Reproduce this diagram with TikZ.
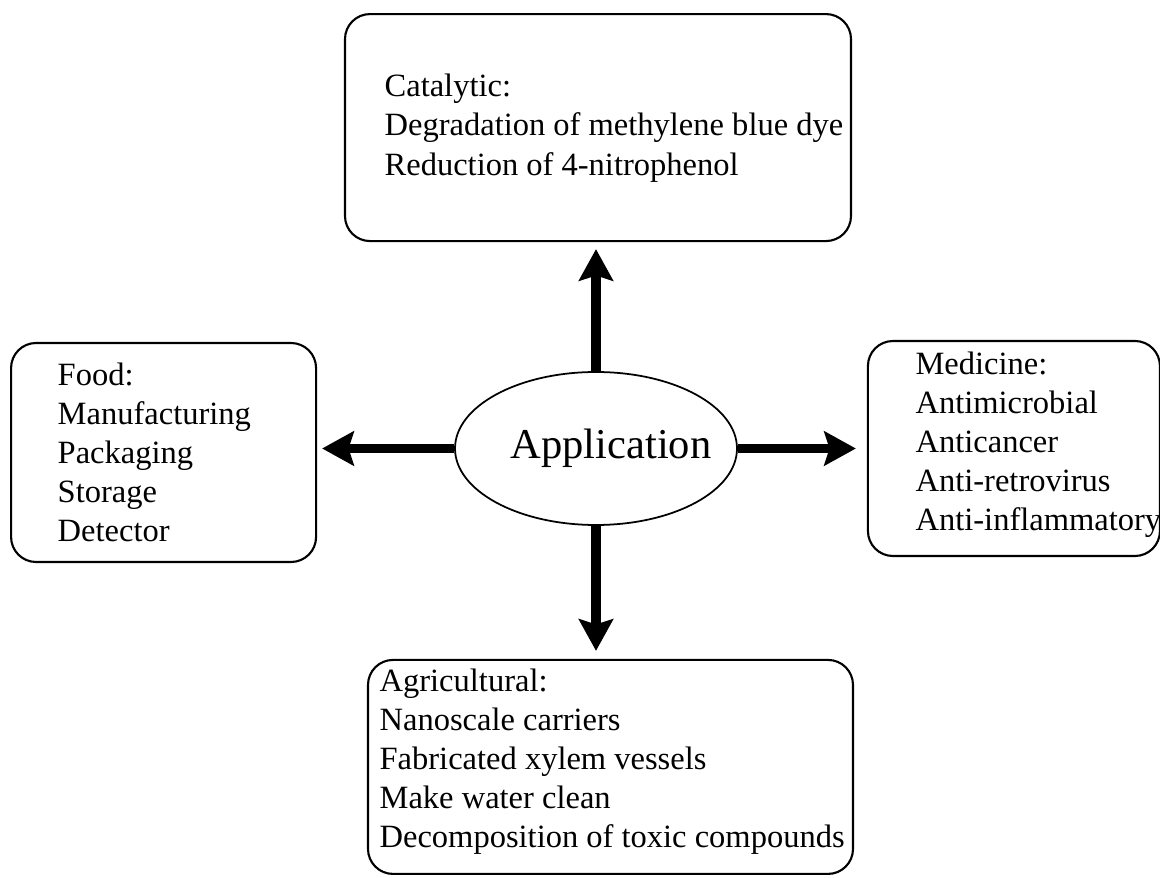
\documentclass[tikz,border=0pt]{standalone}
\usepackage{fontspec}
\setmainfont{Liberation Serif}
\usetikzlibrary{positioning,arrows.meta,shapes.geometric}

\begin{document}
\begin{tikzpicture}[
  align=left,
  >={Stealth[length=9pt,width=9.7pt,inset=1.5pt]}, % 箭头样式
  box/.style={draw, line width=0.6pt, rounded corners=0.25cm},
  txt/.style={inner sep=0pt, font=\fontsize{9.25pt}{11.1pt}\selectfont},
  arr/.style={->, line width=2.6pt}
]
\useasboundingbox (0,0) rectangle (11.60,-8.78);

% 中心椭圆
\node (app) [ellipse, draw, line width=0.5pt, minimum width=2.82cm, minimum height=1.53cm, inner sep=0pt, font=\fontsize{12.1pt}{14pt}\selectfont] at (5.96,-4.485) {\makebox[0pt]{\hspace*{0.3cm}Application}};

% 四个方框
\node (catal) [box, minimum width=5.06cm, minimum height=2.27cm, above=1.29cm of app, xshift=0.02cm] {};
\node (food) [box, minimum width=3.05cm, minimum height=2.19cm, left=1.37cm of app, yshift=-0.04cm] {};
\node (med) [box, minimum width=2.92cm, minimum height=2.15cm, right=1.29cm of app] {};
\node (agri) [box, minimum width=4.85cm, minimum height=2.14cm, below=1.33cm of app, xshift=0.145cm] {};

% 框内文字（基线对齐最后一行）
\node (catalTxt) [txt, anchor=base west] at ([shift={(0.40,-1.62)}]catal.north west) {Catalytic:\\Degradation of methylene blue dye\\Reduction of 4-nitrophenol};
\node (foodTxt) [txt, anchor=base west] at ([shift={(0.47,-2.00)}]food.north west) {Food:\\Manufacturing\\Packaging\\Storage\\Detector};
\node (medTxt) [txt, anchor=base west] at ([shift={(0.48,-1.91)}]med.north west) {Medicine:\\Antimicrobial\\Anticancer\\Anti-retrovirus\\Anti-inflammatory};
\node (agriTxt) [txt, anchor=base west] at ([shift={(0.12,-1.89)}]agri.north west) {Agricultural:\\Nanoscale carriers\\Fabricated xylem vessels\\Make water clean\\Decomposition of toxic compounds};

% 箭头
\draw[arr, shorten >=0.07cm] (app.north) -- (app.north |- catal.south);
\draw[arr, shorten >=0.05cm] (app.west) -- (app.west -| food.east);
\draw[arr, shorten >=0.11cm] (app.east) -- (app.east -| med.west);
\draw[arr, shorten >=0.08cm] (app.south) -- (app.south |- agri.north);
\end{tikzpicture}
\end{document}
